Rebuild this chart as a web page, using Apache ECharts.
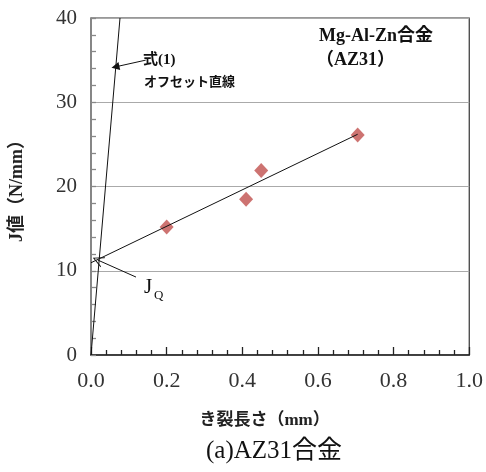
<!DOCTYPE html>
<html><head><meta charset="utf-8">
<script src="https://cdn.jsdelivr.net/npm/echarts@6/dist/echarts.min.js"></script>
<style>html,body{margin:0;padding:0;background:#fff}#c{width:486px;height:472px}</style>
</head><body><div id="c"></div>
<script>
const crackLen = [0.20, 0.41, 0.45, 0.705];
const jValue = [15.2, 18.5, 21.9, 26.1];
const regressionX = [0.0, 0.705];
const regressionY = [10.95, 26.2];
const offsetX = [0.0, 0.0767];
const offsetY = [0.0, 40.0];
const arrowEq = [[0.1447, 35.0], [0.0646, 34.2]];
const arrowJQ = [[0.119, 9.25], [0.018, 11.27]];
const xTicks = [0, 0.2, 0.4, 0.6, 0.8, 1.0];
const yTicks = [0, 10, 20, 30, 40];

const SERIF = '"Liberation Serif","Noto Sans CJK JP",serif';
const chart = echarts.init(document.getElementById('c'));
const zip = (a, b) => a.map((v, i) => [v, b[i]]);
const chevron = 'path://M5,0 L10,10 L9,10 L5,1.8 L1,10 L0,10 Z';
const txt = (text, left, top, size, weight) => ({
  text, left, top, padding: 0, itemGap: 0,
  textStyle: { fontFamily: SERIF, fontSize: size, fontWeight: weight, color: '#111' }
});

chart.setOption({
  animation: false,
  title: [
    txt('式(1)', 143, 53, 15, 'bold'),
    txt('オフセット直線', 144, 76, 13, 'bold'),
    txt('Mg-Al-Zn合金', 319, 27, 18, 'bold'),
    txt('（AZ31）', 316, 51, 18, 'bold'),
    txt('J', 144, 277, 21, 'normal'),
    txt('Q', 154, 289, 13, 'normal'),
    txt('(a)AZ31合金', 206, 439, 25, 'normal')
  ],
  grid: { left: 87, right: 12, top: 18, bottom: 117, show: true, borderColor: '#333', borderWidth: 1.2, backgroundColor: 'transparent' },
  xAxis: {
    type: 'value', min: xTicks[0], max: xTicks[xTicks.length - 1], interval: 0.2,
    name: 'き裂長さ（mm）', nameLocation: 'middle', nameGap: 57,
    nameTextStyle: { fontFamily: SERIF, fontSize: 17, fontWeight: 'bold', color: '#222', padding: [0, 31, 0, 0] },
    axisLine: { show: true, lineStyle: { color: '#222', width: 1.5 } },
    axisTick: { show: true, inside: true, length: 8, lineStyle: { color: '#222', width: 1.3 } },
    minorTick: { show: true, splitNumber: 5, length: 5, lineStyle: { color: '#222', width: 1.3 } },
    splitLine: { show: false },
    axisLabel: { fontFamily: SERIF, fontSize: 22, color: '#333', margin: 15, formatter: v => v.toFixed(1) }
  },
  yAxis: {
    type: 'value', min: yTicks[0], max: yTicks[yTicks.length - 1], interval: 10,
    name: 'J値（N/mm）', nameLocation: 'middle', nameGap: 65, nameRotate: 90,
    nameTextStyle: { fontFamily: SERIF, fontSize: 18, fontWeight: 'bold', color: '#222' },
    axisLine: { show: true, lineStyle: { color: '#888', width: 1.5 } },
    axisTick: { show: true, inside: true, length: 5, lineStyle: { color: '#888', width: 1.3 } },
    minorTick: { show: true, splitNumber: 5, length: 5, lineStyle: { color: '#888', width: 1.3 } },
    splitLine: { show: true, lineStyle: { color: '#aaa', width: 1 } },
    axisLabel: { fontFamily: SERIF, fontSize: 21, color: '#333', margin: 14 }
  },
  series: [{
    type: 'lines', coordinateSystem: 'cartesian2d', z: 3, symbol: 'none',
    lineStyle: { color: '#111', width: 1, opacity: 1 },
    data: [{ coords: zip(offsetX, offsetY) }, { coords: zip(regressionX, regressionY) }]
  }, {
    type: 'lines', coordinateSystem: 'cartesian2d', z: 4,
    symbol: ['none', 'triangle'], symbolSize: 8,
    lineStyle: { color: '#111', width: 1, opacity: 1 },
    data: [{ coords: arrowEq }]
  }, {
    type: 'lines', coordinateSystem: 'cartesian2d', z: 4,
    symbol: ['none', chevron], symbolSize: 11,
    lineStyle: { color: '#111', width: 1, opacity: 1 },
    data: [{ coords: arrowJQ }]
  }, {
    type: 'scatter', data: zip(crackLen, jValue), symbol: 'diamond', symbolSize: [14, 15],
    itemStyle: { color: '#c0504d' }, z: 2
  }]
});
</script></body></html>
